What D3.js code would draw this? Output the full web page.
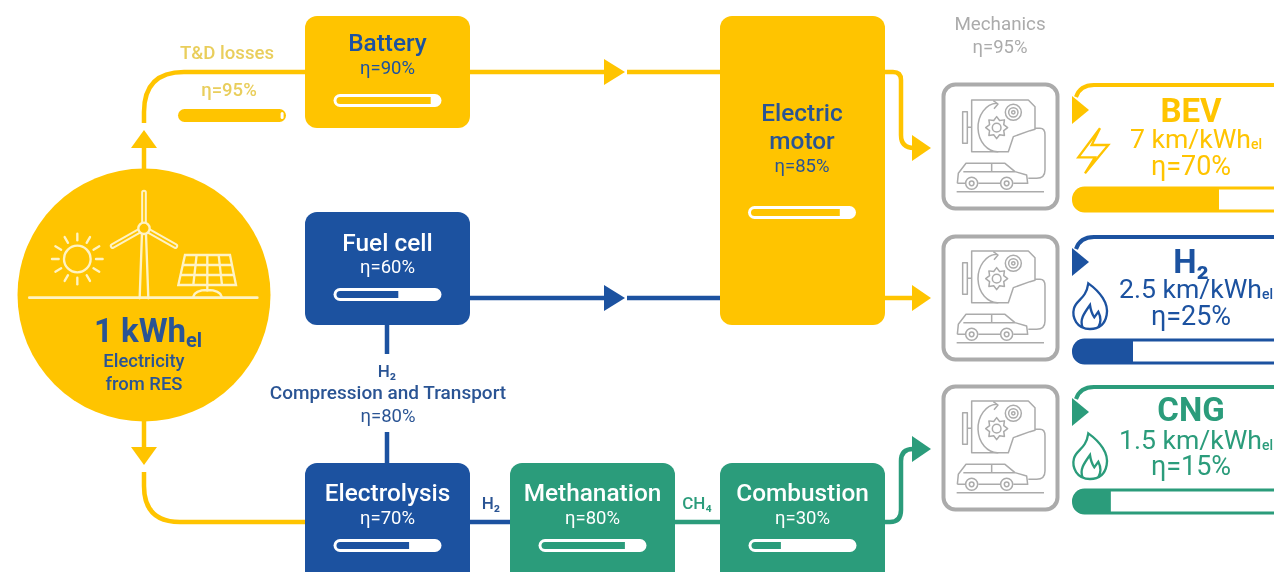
<!DOCTYPE html>
<html><head><meta charset="utf-8">
<style>html,body{margin:0;padding:0;background:#fff}svg{display:block;filter:blur(.5px)}text{font-family:Roboto,sans-serif;text-anchor:middle}</style>
<script src="https://cdn.jsdelivr.net/npm/d3@7/dist/d3.min.js"></script>
</head><body><svg id="c" width="1274" height="572"></svg>
<script>
// ---- data ----
const processNames = ["Battery","Fuel cell","Electrolysis","Methanation","Combustion"];
const processEfficiency = [90,60,70,80,30];
const motorLines = ["Electric","motor"];
const motorEfficiency = 85;
const lossEfficiency = 95;
const transportEfficiency = 80;
const mechanicsEfficiency = 95;
const vehicleNames = ["BEV","H₂","CNG"];
const vehicleRange = ["7 km/kWh","2.5 km/kWh","1.5 km/kWh"];
const vehicleEfficiency = [70,25,15];
const vehicleBarFill = [70,29,18.5];   // filled share as drawn in the picture

// ---- styles and layout ----
const Y="#FFC400", B="#1C52A0", G="#2B9C7B", BT="#2A5494", YT="#E9CE5C", GR="#ABABAB", IC="#FFF3C4";
const svg=d3.select("#c");
const effX=d3.scaleLinear().domain([0,100]).range([0,108]);
const boxLayout=[{x:305,y:16,w:165,h:112,c:Y,t:B,dy:[35,58],bar:78},
 {x:305,y:212,w:165,h:113,c:B,t:"#fff",dy:[39,61],bar:76},
 {x:305,y:463,w:165,h:125,c:B,t:"#fff",dy:[38,61],bar:76},
 {x:510,y:463,w:165,h:125,c:G,t:"#fff",dy:[38,61],bar:76},
 {x:720,y:463,w:165,h:125,c:G,t:"#fff",dy:[38,61],bar:76}];
const cardY=[83,235,385], colors=[Y,B,G];

function txt(g,x,y,s,size,col,w=400){return g.append("text").attr("x",x).attr("y",y).attr("font-size",size).attr("fill",col).attr("font-weight",w).text(s);}
function p(d,c,w=4.5,g=svg){return g.append("path").attr("d",d).attr("fill","none").attr("stroke",c).attr("stroke-width",w);}
function tri(pts,c){svg.append("polygon").attr("points",pts.join(" ")).attr("fill",c);}
function pill(x,y,val,fg){
  const g=svg.append("g");
  const id="cp"+Math.round(x)+"_"+Math.round(y);
  g.append("clipPath").attr("id",id).append("rect").attr("x",x).attr("y",y).attr("width",effX(val)).attr("height",13);
  g.append("rect").attr("x",x).attr("y",y).attr("width",108).attr("height",13).attr("rx",6.5).attr("fill","#fff");
  g.append("rect").attr("x",x+3).attr("y",y+3).attr("width",102).attr("height",7).attr("rx",3.5).attr("fill",fg).attr("clip-path",`url(#${id})`);
}

// ---- connectors ----
p("M144 123 V112 Q144 72 184 72 H305",Y);
p("M144 147 V172",Y);
tri([[144,130],[131,148],[157,148]],Y);
p("M144 421 V448",Y);
tri([[144,465],[131,447],[157,447]],Y);
p("M144 472 V486 Q144 522 180 522 H305",Y);
p("M470 72 H606 M627 72 H720",Y);
tri([[604,59],[625,72],[604,85]],Y);
p("M470 298 H606 M627 298 H720",B);
tri([[604,285],[625,298],[604,311]],B);
p("M884 72 H893 Q901 72 901 80 V135 Q901 148 914 148",Y);
tri([[912,135],[931,148],[912,161]],Y);
p("M884 298 H914",Y);
tri([[912,285],[931,298],[912,311]],Y);
p("M387 325 V354 M387 432 V463",B);
p("M470 522 H510",B);
p("M675 522 H720",G);
p("M885 522 H890 Q901 522 901 510 V461 Q901 449 913 449",G);
tri([[912,436],[931,449],[912,462]],G);

// ---- process boxes ----
processNames.forEach((n,i)=>{
  const b=boxLayout[i], cx=b.x+b.w/2;
  svg.append("rect").attr("x",b.x).attr("y",b.y).attr("width",b.w).attr("height",b.h).attr("rx",12).attr("fill",b.c);
  txt(svg,cx,b.y+b.dy[0],n,24.4,b.t,500);
  txt(svg,cx,b.y+b.dy[1],"η="+processEfficiency[i]+"%",18.5,b.t);
  pill(cx-54,b.y+b.bar,processEfficiency[i],b.c);
});
svg.append("rect").attr("x",720).attr("y",16).attr("width",165).attr("height",309).attr("rx",12).attr("fill",Y);
motorLines.forEach((s,i)=>txt(svg,802,121+i*28,s,24.4,BT,500));
txt(svg,802,172,"η="+motorEfficiency+"%",18.5,BT);
pill(748,206,motorEfficiency,Y);

// T&D losses
txt(svg,227,59,"T&D losses",18.6,YT,500);
txt(svg,229,96,"η="+lossEfficiency+"%",18.5,YT,500);
svg.append("rect").attr("x",178).attr("y",109).attr("width",108).attr("height",13).attr("rx",6.5).attr("fill",Y);
svg.append("rect").attr("x",178+effX(lossEfficiency)).attr("y",112).attr("width",3).attr("height",7).attr("rx",1.5).attr("fill","#fff");

// transport
txt(svg,387,377,"H₂",17,BT,500);
txt(svg,388,399,"Compression and Transport",19,BT,500);
txt(svg,388,422,"η="+transportEfficiency+"%",18.5,BT);
txt(svg,491,509,"H₂",17,BT,500);
txt(svg,697,509,"CH₄",17,G,500);

// ---- source circle ----
svg.append("circle").attr("cx",144).attr("cy",295).attr("r",126.5).attr("fill",Y);
const ic=svg.append("g").attr("transform","translate(0,170) scale(0.3333)").attr("stroke-linecap","round");
p("M88 383 H772",IC,8,ic);
ic.append("circle").attr("cx",232).attr("cy",267).attr("r",40).attr("fill","none").attr("stroke",IC).attr("stroke-width",7);
d3.range(12).forEach(k=>{const a=k*Math.PI/6;
  p(`M${232+56*Math.cos(a)} ${267+56*Math.sin(a)} L${232+76*Math.cos(a)} ${267+76*Math.sin(a)}`,IC,7,ic);});
// turbine
p("M419 385 L426 190 M445 385 L438 190",IC,7,ic);
[[432,68],[338,228],[526,228]].forEach(t=>{
  p(`M432 175 L${t[0]} ${t[1]}`,IC,17,ic);
  p(`M432 175 L${t[0]} ${t[1]}`,Y,5,ic);
});
ic.append("circle").attr("cx",432).attr("cy",175).attr("r",17).attr("fill",Y).attr("stroke",IC).attr("stroke-width",7);
// panel
p("M555 255 H690 L708 345 H535 Z M549 285 H696 M543 315 H702 M590 255 L580 345 M622 255 V345 M656 255 L666 345",IC,7,ic);
p("M622 345 V362 M580 380 Q585 360 622 360 Q660 360 665 380",IC,7,ic);

const tc=svg.append("text").attr("x",148).attr("y",342).attr("font-size",33).attr("font-weight",700).attr("fill",BT);
tc.append("tspan").text("1 kWh");
tc.append("tspan").attr("font-size",20).attr("dy",5).text("el");
txt(svg,144,367,"Electricity",18.4,BT,500);
txt(svg,144,390,"from RES",18.4,BT,500);

// ---- mechanics ----
txt(svg,1000,30,"Mechanics",18.8,GR);
txt(svg,1000,53,"η="+mechanicsEfficiency+"%",18.5,GR);
function vehicleIcon(y0,yTop,h){
  svg.append("rect").attr("x",943.5).attr("y",yTop+1.5).attr("width",114).attr("height",h).attr("rx",12).attr("fill","#fff").attr("stroke",GR).attr("stroke-width",4);
  const g=svg.append("g").attr("transform",`translate(930,${y0}) scale(0.3333)`).attr("stroke-linejoin","round");
  const s=4.5;
  p("M125 300 H295 L315 320 V388 L300 392 L250 410 L235 455 H125 Z",GR,s,g);
  p("M98 335 H112 V430 H98 Z M112 382 H125",GR,s,g);
  p("M200 310 A 58 72 0 0 0 205 455 M190 302 L204 312 L192 326",GR,s,g);
  const gear=d3.range(16).map(k=>{const r=k%2?23:33,a=k*Math.PI/8;return[200+r*Math.cos(a),383+r*Math.sin(a)];});
  p(d3.line().curve(d3.curveLinearClosed)(gear),GR,s,g);
  g.append("circle").attr("cx",200).attr("cy",383).attr("r",13).attr("fill","none").attr("stroke",GR).attr("stroke-width",s);
  [24,14,5].forEach(r=>g.append("circle").attr("cx",250).attr("cy",337).attr("r",r).attr("fill","none").attr("stroke",GR).attr("stroke-width",s));
  p("M315 385 H330 Q345 385 345 405 V510 Q345 535 320 535 H295",GR,s,g);
  p("M82 550 L85 520 L108 490 H225 L255 515 L290 525 L293 550 H250 M210 550 H145 M105 550 H82 M100 515 H255 M185 488 V515",GR,s,g);
  [125,230].forEach(x=>{[18,7].forEach(r=>g.append("circle").attr("cx",x).attr("cy",550).attr("r",r).attr("fill","none").attr("stroke",GR).attr("stroke-width",s));});
  p("M80 575 H342",GR,s,g);
}
vehicleIcon(0,83,124);
vehicleIcon(151,235,123);
vehicleIcon(301,385,123);

// ---- vehicle cards ----
vehicleNames.forEach((n,i)=>{
  const y=cardY[i], c=colors[i];
  p(`M1076 ${y+14} Q1080 ${y+2} 1094 ${y+2} H1280`,c,4);
  tri([[1072,y+13],[1089,y+27],[1072,y+41]],c);
  txt(svg,1191,[122,273,421][i],n,33,c,700);
  const r=svg.append("text").attr("x",[1196,1196,1196][i]).attr("y",[148,298,449][i]).attr("font-size",26.6).attr("fill",c);
  r.append("tspan").text(vehicleRange[i]);
  r.append("tspan").attr("font-size",14).attr("dy",1).attr("font-weight",500).text("el");
  txt(svg,1191,[175,325,475][i],"η="+vehicleEfficiency[i]+"%",27,c);
  const bx=d3.scaleLinear().domain([0,100]).range([1072,1282]);
  const by=y+105, bh=23;
  const cid="vb"+i;
  svg.append("clipPath").attr("id",cid).append("rect").attr("x",1072).attr("y",by-2).attr("width",bx(vehicleBarFill[i])-1072).attr("height",bh+4);
  svg.append("rect").attr("x",1073.5).attr("y",by).attr("width",230).attr("height",bh).attr("rx",11).attr("fill","#fff").attr("stroke",c).attr("stroke-width",3);
  svg.append("rect").attr("x",1073).attr("y",by-1).attr("width",230).attr("height",bh+2).attr("rx",11).attr("fill",c).attr("clip-path",`url(#${cid})`);
});
// bolt
const bolt=svg.append("g").attr("transform","translate(930,0) scale(0.3333)");
p("M510 385 L445 472 H495 L465 520 L535 435 H485 Z",Y,7,bolt);
// flames
[[B,220],[G,370]].forEach(([c,y])=>{
  const f=svg.append("g").attr("transform",`translate(930,${y}) scale(0.3333)`);
  p("M480 327 C440 327 425 292 432 265 C440 238 468 238 475 190 C510 215 537 250 530 285 C525 312 510 327 480 327 Z",c,7,f);
  p("M458 322 C448 300 462 280 480 255 C482 270 488 285 493 292 L505 275 C515 295 512 310 505 322",c,7,f);
});
</script></body></html>
